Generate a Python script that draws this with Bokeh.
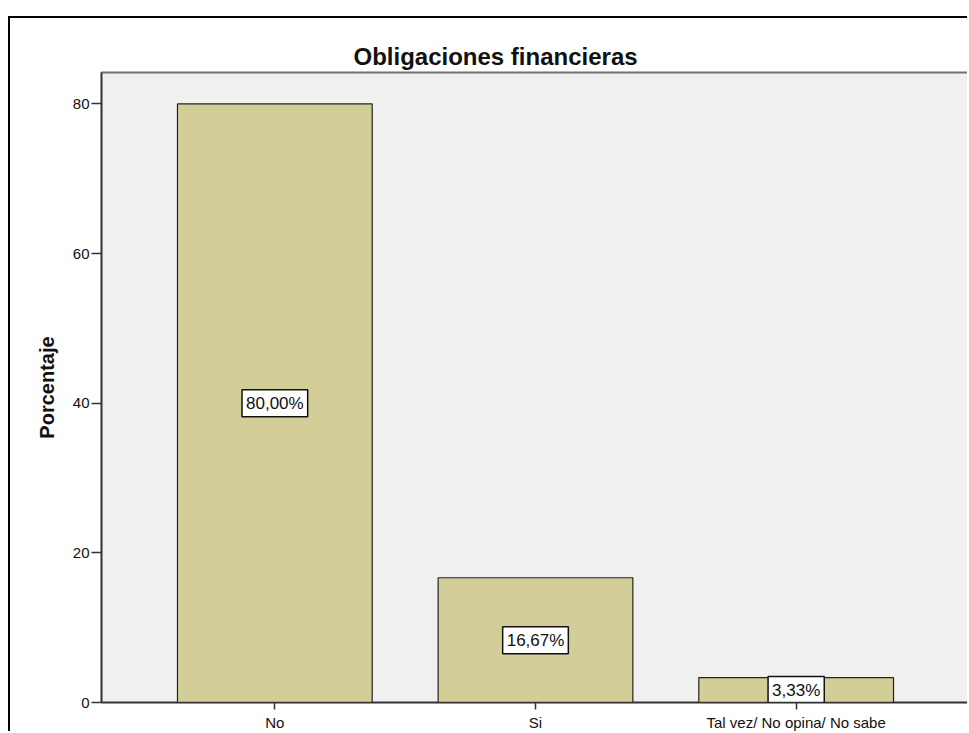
from bokeh.plotting import figure
from bokeh.models import ColumnDataSource, FactorRange, Range1d, FixedTicker
from bokeh.core.properties import value
from bokeh.embed import file_html
from bokeh.resources import INLINE

categories = ["No", "Si", "Tal vez/ No opina/ No sabe"]
percentages = [80.00, 16.67, 3.33]
y_ticks = [0, 20, 40, 60, 80]
title_text = "Obligaciones financieras"
y_label = "Porcentaje"

labels = [f"{v:.2f}".replace(".", ",") + "%" for v in percentages]
mids = [v / 2 for v in percentages]
src = ColumnDataSource(dict(cat=categories, val=percentages, mid=mids, lab=labels))

FONT = "Liberation Sans"

p = figure(
    x_range=FactorRange(factors=categories, range_padding=0.11),
    y_range=Range1d(0, 84.2),
    width=959, height=715,
    output_backend="svg", toolbar_location=None,
    min_border_left=91, min_border_right=0, min_border_top=54, min_border_bottom=0,
    margin=(16, 0, 0, 8),
    styles={"border-left": "2px solid #000", "border-top": "2px solid #000"},
    background_fill_color="#f0f0f0", border_fill_color="white",
    title=title_text,
)

p.vbar(x="cat", top="val", width=0.747, source=src,
       fill_color="#d3ce97", line_color="#222222", line_width=1.2)

p.text(x="cat", y="mid", text="lab", source=src,
       text_align="center", text_baseline="middle",
       text_font=value(FONT), text_font_size="17px", text_color="#111111",
       background_fill_color="white", border_line_color="#111111",
       border_line_width=1.5, padding=4)

p.title.text_font = FONT
p.title.text_font_size = "24px"
p.title.text_font_style = "bold"
p.title.text_color = "#111111"
p.title.align = "left"
p.title.offset = 252
p.title.standoff = 5

p.grid.visible = False
p.outline_line_color = "#707070"
p.outline_line_width = 2

for ax in (p.xaxis[0], p.yaxis[0]):
    ax.axis_line_color = "#333333"
    ax.axis_line_width = 1.5
    ax.major_tick_line_color = "#333333"
    ax.major_tick_line_width = 1.5
    ax.major_tick_in = 0
    ax.minor_tick_out = 0
    ax.minor_tick_in = 0
    ax.major_label_text_font = FONT
    ax.major_label_text_color = "#111111"

p.xaxis.major_tick_out = 7
p.xaxis.major_label_standoff = 4
p.xaxis.major_label_text_font_size = "15px"

p.yaxis.ticker = FixedTicker(ticks=y_ticks)
p.yaxis.major_tick_out = 10
p.yaxis.major_label_standoff = 2
p.yaxis.major_label_text_font_size = "15px"
p.yaxis.axis_label = y_label
p.yaxis.axis_label_text_font = FONT
p.yaxis.axis_label_text_font_size = "20px"
p.yaxis.axis_label_text_font_style = "bold"
p.yaxis.axis_label_text_color = "#111111"
p.yaxis.axis_label_standoff = 12

open("out.html", "w").write(file_html(p, INLINE))
